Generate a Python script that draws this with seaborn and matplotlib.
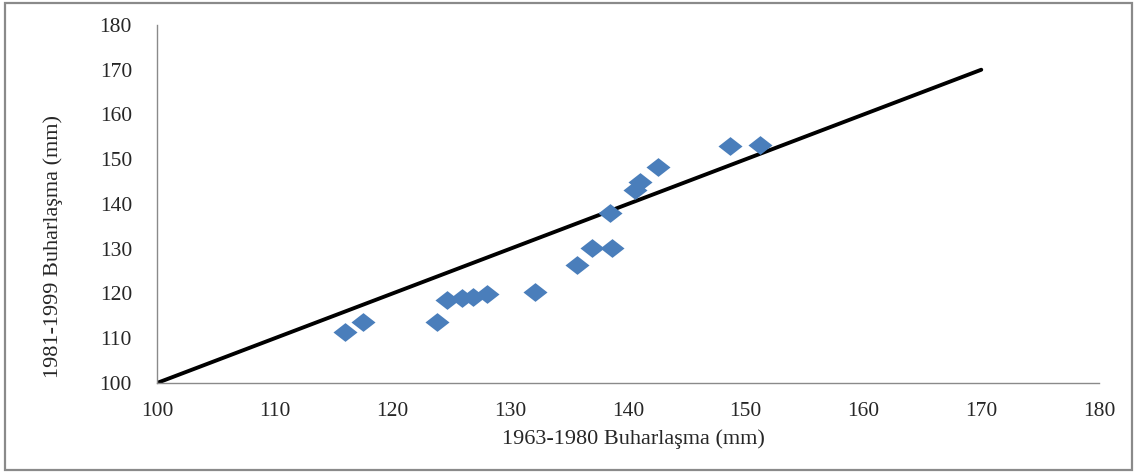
import numpy as np
import pandas as pd
import matplotlib
matplotlib.use("Agg")
import matplotlib.pyplot as plt
import seaborn as sns
from matplotlib.patches import Rectangle

# Values
buhar_1963_1980 = [115.96, 117.49, 123.77, 124.62, 125.89, 126.83, 128.01, 132.09, 135.65,
                   136.93, 138.62, 138.45, 140.58, 141.00, 142.53, 148.64, 151.19]
buhar_1981_1999 = [111.40, 113.63, 113.63, 118.55, 118.99, 119.22, 119.89, 120.34, 126.37,
                   130.17, 130.17, 137.99, 143.13, 144.92, 148.27, 152.96, 153.18]
line_x = [100, 170]
line_y = [100, 170]
ticks = [100, 110, 120, 130, 140, 150, 160, 170, 180]

df = pd.DataFrame({"x": buhar_1963_1980, "y": buhar_1981_1999})

sns.set_style("white")
plt.rcParams["font.family"] = ["Liberation Serif", "DejaVu Serif"]

fig = plt.figure(figsize=(11.37, 4.73), dpi=100)
ax = fig.add_axes([0.1381, 0.1903, 0.8285, 0.7569])

# wide diamond, like the stretched marker of the original
diamond = [(-1, 0), (0, 0.78), (1, 0), (0, -0.78), (-1, 0)]

sns.lineplot(x=line_x, y=line_y, color="black", linewidth=2.8, ax=ax)
sns.scatterplot(data=df, x="x", y="y", marker=diamond, s=300, color="#4A7EBB",
                edgecolor="#4A7EBB", linewidth=0, ax=ax, zorder=3)

ax.set_xlim(100, 180)
ax.set_ylim(100, 180)
ax.set_xticks(ticks)
ax.set_yticks(ticks)
ax.tick_params(length=0, labelsize=15.5, colors="#262626")
ax.tick_params(axis="y", pad=18)
ax.tick_params(axis="x", pad=14)
for side in ["top", "right"]:
    ax.spines[side].set_visible(False)
for side in ["left", "bottom"]:
    ax.spines[side].set_color("#8a8a8a")
    ax.spines[side].set_linewidth(1.0)

ax.set_xlabel("1963-1980 Buharlaşma (mm)", fontsize=16, color="#262626")
ax.set_ylabel("1981-1999 Buharlaşma (mm)", fontsize=16, color="#262626")
ax.xaxis.set_label_coords(0.506, -0.156)
ax.xaxis.label.set_va("center")
ax.yaxis.set_label_coords(-0.11, 0.38)
ax.yaxis.label.set_va("center")

# outer chart border
fig.patches.append(Rectangle((0.004, 0.006), 0.992, 0.988, transform=fig.transFigure,
                             fill=False, edgecolor="#8a8a8a", linewidth=1.6))

fig.savefig("out.png", dpi=100)
